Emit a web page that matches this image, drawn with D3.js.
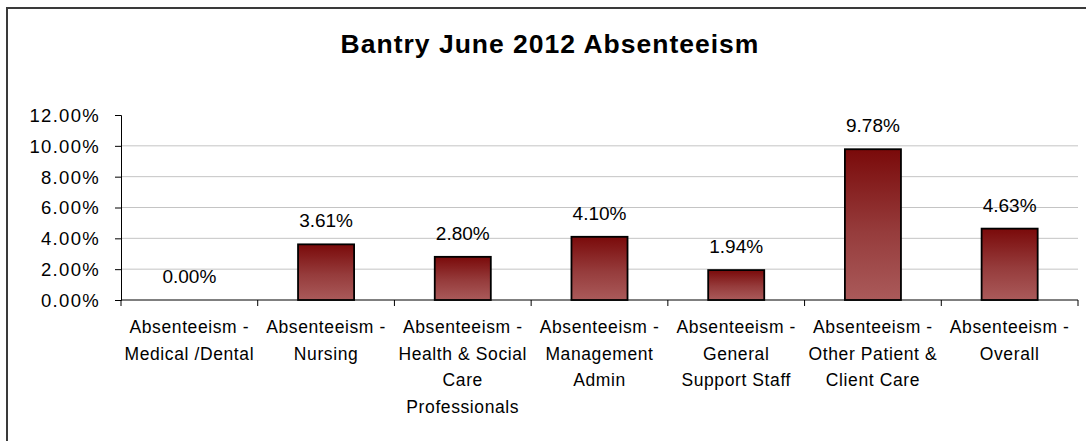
<!DOCTYPE html>
<html><head><meta charset="utf-8">
<script src="https://cdn.jsdelivr.net/npm/d3@7"></script>
<style>html,body{margin:0;padding:0;background:#fff;}svg{display:block;font-family:"Liberation Sans",Arial,sans-serif;}</style>
</head><body><svg id="c" width="1086" height="441"></svg>
<script>
const title = "Bantry June 2012 Absenteeism";
const categories = [
  "Absenteeism -\nMedical /Dental",
  "Absenteeism -\nNursing",
  "Absenteeism -\nHealth & Social\nCare\nProfessionals",
  "Absenteeism -\nManagement\nAdmin",
  "Absenteeism -\nGeneral\nSupport Staff",
  "Absenteeism -\nOther Patient &\nClient Care",
  "Absenteeism -\nOverall"
];
const values = [0.0000, 0.0361, 0.0280, 0.0410, 0.0194, 0.0978, 0.0463];
const yTicks = [0, 0.02, 0.04, 0.06, 0.08, 0.10, 0.12];

const svg = d3.select("#c");
const L = 121, R = 1078, T = 115, B = 300;

// frame
svg.append("rect").attr("x",7).attr("y",8).attr("width",1200).attr("height",600)
  .attr("fill","#fff").attr("stroke","#3a3a3a").attr("stroke-width",2);

const x = d3.scaleBand().domain(categories).range([L,R]).paddingInner(0.59).paddingOuter(0.295);
const xb = d3.scaleBand().domain(categories).range([L,R]);
const y = d3.scaleLinear().domain([0,0.12]).range([B,T]);

// gradient
const defs = svg.append("defs");
const g = defs.append("linearGradient").attr("id","bg").attr("x1",0).attr("y1",0).attr("x2",0).attr("y2",1);
g.append("stop").attr("offset","0%").attr("stop-color","#7a0a0a");
g.append("stop").attr("offset","55%").attr("stop-color","#963c3c");
g.append("stop").attr("offset","100%").attr("stop-color","#aa5a5a");

// gridlines
svg.append("g").selectAll("line").data(yTicks.filter(t=>t>0 && t<0.12)).join("line")
  .attr("x1",L).attr("x2",R).attr("y1",d=>y(d)).attr("y2",d=>y(d))
  .attr("stroke","#c4c4c4").attr("stroke-width",1);

// title
svg.append("text").attr("x",550).attr("y",53).attr("text-anchor","middle")
  .attr("font-size",26.5).attr("font-weight","bold").attr("letter-spacing","1px").attr("fill","#000").text(title);

// y axis
const yAxis = d3.axisLeft(y).tickValues(yTicks).tickFormat(d3.format(".2%")).tickSize(6).tickPadding(15);
const ya = svg.append("g").attr("transform",`translate(${L},0)`).call(yAxis);
ya.select(".domain").attr("stroke","#000");
ya.selectAll(".tick line").attr("stroke","#000");
ya.selectAll("text").attr("font-size",18.5).attr("letter-spacing","1.3px").attr("fill","#000")
  .attr("font-family","Liberation Sans, Arial, sans-serif").attr("dy","0.35em");

// x axis
const xa = svg.append("g").attr("transform",`translate(0,${B})`);
xa.append("line").attr("x1",L).attr("x2",R).attr("y1",0).attr("y2",0).attr("stroke","#000");
const bounds = categories.map(c=>xb(c)).concat([R]);
xa.selectAll("line.tk").data(bounds).join("line").attr("class","tk")
  .attr("x1",d=>d).attr("x2",d=>d).attr("y1",0).attr("y2",6).attr("stroke","#000");

// category labels
const cl = svg.append("g").selectAll("text").data(categories).join("text")
  .attr("x",d=>xb(d)+xb.bandwidth()/2).attr("y",333)
  .attr("text-anchor","middle").attr("font-size",17.5).attr("letter-spacing","0.6px").attr("fill","#000");
cl.selectAll("tspan").data(d=>d.split("\n")).join("tspan")
  .attr("x",function(){return d3.select(this.parentNode).attr("x");})
  .attr("dy",(d,i)=>i===0?0:26.5).text(d=>d);

// bars
svg.append("g").selectAll("rect").data(values).join("rect")
  .attr("x",(d,i)=>x(categories[i])).attr("width",x.bandwidth())
  .attr("y",d=>y(d)).attr("height",d=>B-y(d))
  .attr("fill","url(#bg)").attr("stroke","#000").attr("stroke-width",1.8)
  .style("display",d=>d>0?null:"none");

// value labels
svg.append("g").selectAll("text").data(values).join("text")
  .attr("x",(d,i)=>xb(categories[i])+xb.bandwidth()/2).attr("y",d=>y(d)-17)
  .attr("text-anchor","middle").attr("font-size",19).attr("fill","#000")
  .text(d=>d3.format(".2%")(d));
</script></body></html>
